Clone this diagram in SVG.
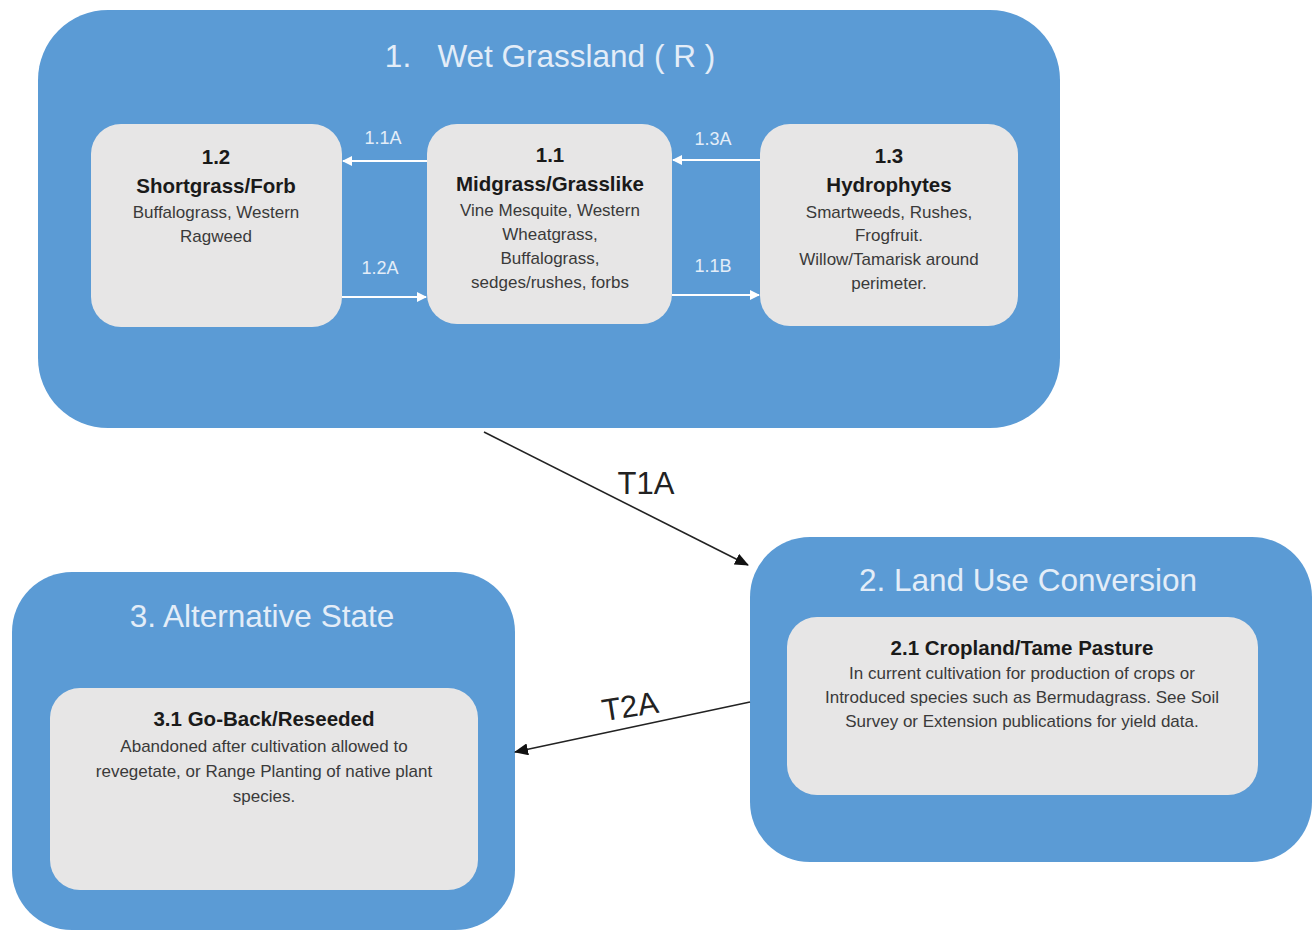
<svg xmlns="http://www.w3.org/2000/svg" width="1315" height="934" viewBox="0 0 1315 934">
<defs>
<marker id="wh" markerWidth="10" markerHeight="10" refX="9" refY="5" orient="auto" markerUnits="userSpaceOnUse"><path d="M0,0 L10,5 L0,10 Z" fill="#ffffff"/></marker>
<marker id="bk" markerWidth="14" markerHeight="12" refX="13" refY="6" orient="auto" markerUnits="userSpaceOnUse"><path d="M0,0 L14,6 L0,12 Z" fill="#111111"/></marker>
</defs>
<style>
.state{fill:#5b9bd5;}
.comm{fill:#e7e6e6;}
.stitle{font-family:"Liberation Sans",Arial,sans-serif;font-size:31.5px;fill:#e3edf8;text-anchor:middle;}
.ctitle{font-family:"Liberation Sans",Arial,sans-serif;font-size:20.5px;font-weight:bold;fill:#1a1a1a;text-anchor:middle;}
.cbody{font-family:"Liberation Sans",Arial,sans-serif;font-size:17px;fill:#3a3a3a;text-anchor:middle;}
.plbl{font-family:"Liberation Sans",Arial,sans-serif;font-size:18px;fill:#e3edf8;text-anchor:middle;}
.tlbl{font-family:"Liberation Sans",Arial,sans-serif;font-size:31px;fill:#222;text-anchor:middle;}
.wl{stroke:#ffffff;stroke-width:2;fill:none;marker-end:url(#wh);}
.bl{stroke:#222;stroke-width:1.6;fill:none;marker-end:url(#bk);}
</style>
<rect width="1315" height="934" fill="#ffffff"/>

<g id="state1">
<rect class="state" x="38" y="10" width="1022" height="418" rx="70"/>
<text class="stitle" x="550" y="67" xml:space="preserve">1.   Wet Grassland ( R )</text>
</g>
<g id="comm12">
<rect class="comm" x="91" y="124" width="251" height="203" rx="30"/>
<text class="ctitle" x="216" y="164">1.2</text>
<text class="ctitle" x="216" y="193">Shortgrass/Forb</text>
<text class="cbody" x="216" y="218">Buffalograss, Western</text>
<text class="cbody" x="216" y="242">Ragweed</text>
</g>
<g id="comm11">
<rect class="comm" x="427" y="124" width="245" height="200" rx="30"/>
<text class="ctitle" x="550" y="162">1.1</text>
<text class="ctitle" x="550" y="191">Midgrass/Grasslike</text>
<text class="cbody" x="550" y="216">Vine Mesquite, Western</text>
<text class="cbody" x="550" y="240">Wheatgrass,</text>
<text class="cbody" x="550" y="264">Buffalograss,</text>
<text class="cbody" x="550" y="288">sedges/rushes, forbs</text>
</g>
<g id="comm13">
<rect class="comm" x="760" y="124" width="258" height="202" rx="30"/>
<text class="ctitle" x="889" y="163">1.3</text>
<text class="ctitle" x="889" y="192">Hydrophytes</text>
<text class="cbody" x="889" y="218">Smartweeds,  Rushes,</text>
<text class="cbody" x="889" y="241">Frogfruit.</text>
<text class="cbody" x="889" y="265">Willow/Tamarisk around</text>
<text class="cbody" x="889" y="289">perimeter.</text>
</g>

<g id="state2">
<rect class="state" x="750" y="537" width="562" height="325" rx="60"/>
<text class="stitle" x="1028" y="591">2. Land Use Conversion</text>
</g>
<g id="comm21">
<rect class="comm" x="787" y="617" width="471" height="178" rx="30"/>
<text class="ctitle" x="1022" y="655">2.1 Cropland/Tame Pasture</text>
<text class="cbody" x="1022" y="679">In current cultivation for production of crops or</text>
<text class="cbody" x="1022" y="703">Introduced species such as Bermudagrass. See Soil</text>
<text class="cbody" x="1022" y="727">Survey or Extension publications for yield data.</text>
</g>

<g id="state3">
<rect class="state" x="12" y="572" width="503" height="358" rx="60"/>
<text class="stitle" x="262" y="627">3. Alternative State</text>
</g>
<g id="comm31">
<rect class="comm" x="50" y="688" width="428" height="202" rx="30"/>
<text class="ctitle" x="264" y="726">3.1 Go-Back/Reseeded</text>
<text class="cbody" x="264" y="752">Abandoned  after cultivation allowed to</text>
<text class="cbody" x="264" y="777">revegetate,  or Range Planting of native plant</text>
<text class="cbody" x="264" y="802">species.</text>
</g>

<g id="connectors">
<line class="wl" x1="427" y1="161" x2="343" y2="161"/>
<text class="plbl" x="383" y="144">1.1A</text>
<line class="wl" x1="342" y1="297" x2="426" y2="297"/>
<text class="plbl" x="380" y="274">1.2A</text>
<line class="wl" x1="760" y1="160" x2="673" y2="160"/>
<text class="plbl" x="713" y="145">1.3A</text>
<line class="wl" x1="672" y1="295" x2="759" y2="295"/>
<text class="plbl" x="713" y="272">1.1B</text>
<line class="bl" x1="484" y1="432" x2="748" y2="565"/>
<text class="tlbl" x="646" y="494">T1A</text>
<line class="bl" x1="750" y1="702" x2="515" y2="752"/>
<text class="tlbl" x="630" y="717" transform="rotate(-9 630 706)">T2A</text>
</g>
</svg>
